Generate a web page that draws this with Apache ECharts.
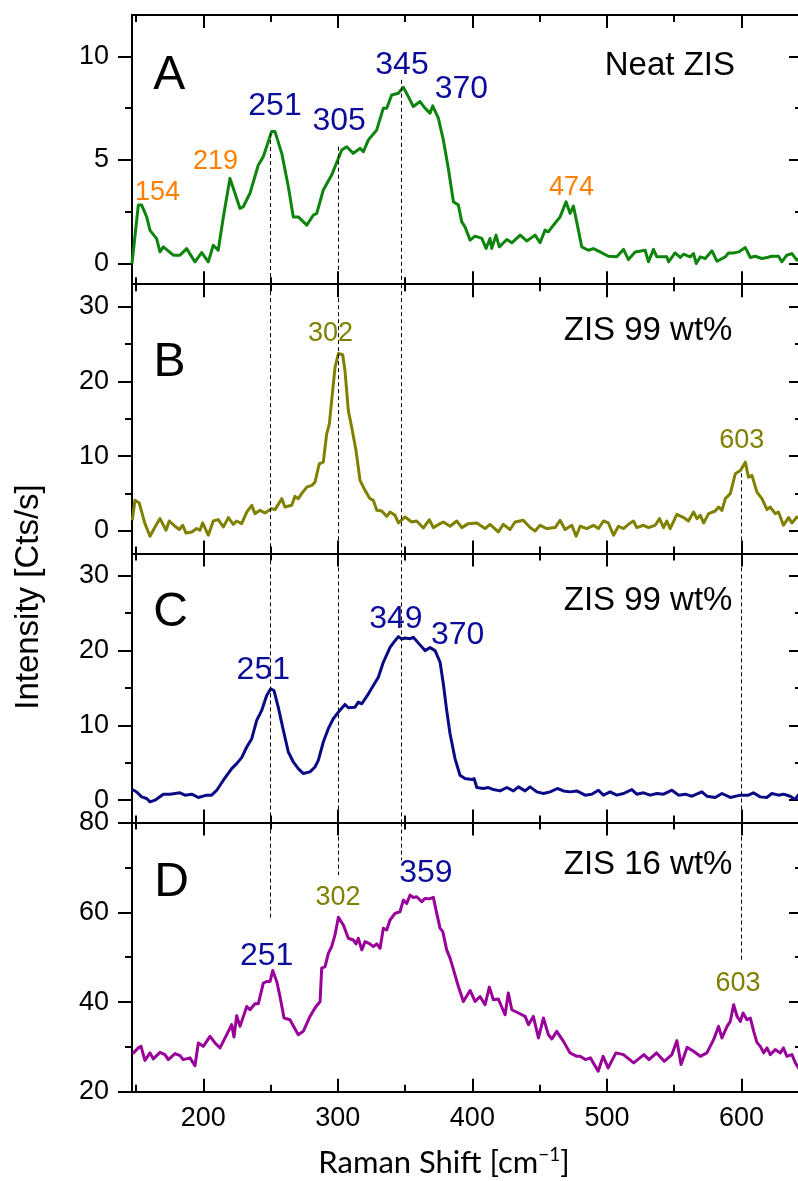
<!DOCTYPE html>
<html>
<head>
<meta charset="utf-8">
<script src="https://cdn.jsdelivr.net/npm/echarts@6/dist/echarts.min.js"></script>
<style>
html,body{margin:0;padding:0;background:#fff;}
#chart{width:798px;height:1181px;}
</style>
</head>
<body>
<div id="chart"></div>
<script>
// ---------------- DATA ----------------
const xRange = [147, 645];
const xMajorTicks = [200, 300, 400, 500, 600];
const xMinorTicks = [150, 250, 350, 450, 550];
const yRanges = [[-1, 12], [-3, 33], [-3, 33], [20, 80]];
const yMajorTicks = [[0, 5, 10], [0, 10, 20, 30], [0, 10, 20, 30], [20, 40, 60, 80]];
const yMinorTicks = [[2.5, 7.5], [5, 15, 25], [5, 15, 25], [30, 50, 70]];

// Panel A: Neat ZIS
const xA = [147,151.7,154.2,157.9,160.4,165.3,167.8,170.3,177.7,182.7,187.6,193.8,198.8,203.7,207.4,211.1,214.9,219.8,222.3,227.3,229.7,234.7,240.9,244.6,250.8,253.3,258.3,263.2,266.9,270.6,276.9,281.8,284.3,289.2,295.4,300.4,302.9,306.6,311.5,316.5,319,322.7,328.9,333.8,336.3,340,345,348.7,352.4,356.1,361.1,364.8,368.5,370.5,374.7,378.4,382.1,385.9,389.6,392.1,394.5,398.3,402,407,410.2,413.1,414.4,417.6,420,425.6,429.3,435.5,440.4,446.6,450.3,454,456.5,460.2,465.2,469.6,472.6,475.1,478.8,481.3,486.2,490,491.2,494.9,501.1,507.3,512.3,516,521,528.4,530.9,534.6,537.1,544.5,545.8,550.7,554.5,556.9,561.9,564.4,566.4,569.4,573.1,578.1,581.8,588,590.4,594.2,597.9,602.9,606.6,610.2,615.2,619,622.6,627.5,630,633.7,637.5,641.2,645];
const yA = [0,2.82,2.82,2.25,1.6,1.2,0.56,0.8,0.4,0.4,0.72,0.08,0.53,0.08,0.88,0.64,2.25,4.11,3.63,2.66,2.74,3.39,4.76,5.16,6.37,6.37,5.32,3.71,2.25,2.25,1.85,2.34,2.42,3.55,4.27,5.08,5.48,5.64,5.32,5.56,5.4,5.97,6.45,7.5,7.5,8.14,8.22,8.51,8.06,7.58,7.82,7.5,7.26,7.61,7.02,5.97,4.6,2.98,2.82,2.01,1.77,1.13,1.32,1.21,0.73,1.21,0.73,1.37,0.8,1.16,1.0,1.37,1.09,1.37,1.0,1.61,1.53,1.85,2.25,2.98,2.42,2.77,1.61,0.8,0.64,0.72,0.8,0.56,0.35,0.32,0.68,0.19,0.56,0.64,0.08,0.68,0.32,0.32,0.08,0.51,0.29,0.45,0.32,0.48,0,0.32,0.24,0.61,0.11,0.32,0.51,0.51,0.56,0.77,0.29,0.35,0.24,0.29,0.35,0.35,0.08,0.4,0.48,0.16,0.3];

// Panel B: ZIS 99 wt%
const xB = [147.2,149.2,152.4,156.6,160.4,164.1,167.8,172.3,174.7,178.9,182.2,184.7,187.1,191.4,195.1,197.5,199.5,203.7,207.4,211.1,214.9,218.6,222.3,224.8,228.5,232.3,236,238.4,242.2,245.9,250.8,253.3,258.3,260.7,265.7,268.2,270.6,273.1,276.9,280.6,283,284.3,286.2,289.2,291.7,293.7,295.4,297.9,300.4,303.6,305.3,307.8,310.3,313.5,316.5,320.2,323.9,326.4,328.9,332.6,336.3,338.8,342.5,345,350,354.9,358.6,363.6,368,371,376,378.4,383.4,388.4,392.1,397,403.3,409.4,413.1,419.3,423,428,431.7,437.9,442.9,446.6,450.3,455.3,461.5,465.2,468.9,473.9,477.1,480.1,485,490,493.7,497.4,501.1,504.9,508.6,512.3,516,519.7,522.2,527.2,530.9,535.9,539.1,542.1,544.5,547,552,557,560.6,564.4,566.9,569.4,571.9,575.6,580.5,583,585.5,588,591.7,595.4,599.2,602.9,605.2,607.8,611.5,615.2,619,621.3,625.1,627.5,631.2,635,637.5,641.2,645];
const yB = [1.43,4.1,3.73,0.98,-0.7,0.53,1.65,0.1,1.33,0.63,0.19,0.76,-0.27,-0.13,0.32,0.1,1.07,-0.57,1.33,1.52,0.53,1.79,0.89,1.33,0.98,2.53,3.43,2.32,2.76,2.4,2.99,2.85,4.32,3.2,3.43,4.63,4.32,4.99,5.87,6.09,6.53,6.76,8.99,9.2,12.99,14.32,17.43,21.87,23.73,23.56,21.43,16.09,13.87,10.76,6.76,5.43,4.32,4.09,2.76,2.67,1.96,2.53,2.09,1.07,1.87,1.2,1.33,0.4,1.5,0.45,0.98,1.2,0.63,1.33,0.45,0.98,1.07,0.32,0.89,-0.13,0.89,0.19,1.2,1.43,0.45,0,0.76,0.32,0.45,1.43,0.19,0.76,-0.7,0.63,0.32,0.76,0.32,1.33,1.07,-0.57,0.63,0.32,0.89,1.33,0.45,0.76,0.45,0.76,1.65,0.45,1.33,0.32,2.23,1.79,1.33,2.53,1.65,2.09,1.07,2.32,2.67,3.2,2.76,4.32,4.99,7.65,8.09,9.2,7.2,7.43,5.2,4.32,2.85,3.2,2.32,2.53,0.76,1.79,1.07,1.87,1.5];

// Panel C: ZIS 99 wt%
const xC = [147.2,150.5,154.2,157.9,160.4,164.1,170.3,175.2,182.7,186.4,191.4,196.3,202.5,206.2,210,214.9,221.1,224.8,228.5,232.3,236,239.7,243.4,247.1,250.1,252.5,255.7,259.5,263.2,266.9,270.6,274.3,279.3,283,285.5,289.2,292.9,296.6,300.4,305.3,307.8,312.8,315.2,317.8,322.7,326.4,330.1,333.8,338.8,342.5,345,347.5,350,353.7,356.1,359.9,364.8,368.5,372.3,376,378.4,380.9,383.4,387.1,390.8,394.5,399.5,401.3,403.3,408.2,411.9,415.6,420.6,425.6,430.5,434.2,439.2,442.9,447.9,452.8,457.8,463.2,467.7,472.6,477.6,483.8,488.7,493.7,497.4,502.4,507.3,512.3,518.5,522.2,527.2,532.1,537.1,542.1,548.3,553.2,558.2,563.2,570.6,574.3,580.5,585.5,591.7,599.2,605.2,608.9,613.9,618.8,622.6,627.5,631.2,636.2,639.9,642.2,645];
const yC = [1.43,1.1,0.44,0.22,-0.22,0,0.8,0.8,0.98,0.67,0.8,0.36,0.67,0.67,1.33,2.67,4.22,4.89,5.69,7.11,8.22,10.67,12,14,14.89,14.67,12.44,9.33,6.44,5.11,4.22,3.56,3.78,4.44,5.33,7.78,9.56,10.89,11.78,12.8,12.36,12.44,13.11,12.89,14.22,15.33,16.44,18.44,20.44,21.33,21.87,21.56,21.69,21.6,21.78,21.0,20,20.4,20,18.44,15.56,12,8.89,5.56,3.33,2.89,2.76,2.89,1.69,1.56,1.69,1.42,1.24,1.69,1.24,1.78,1.24,1.78,1.11,0.89,1.11,1.56,1.24,1.11,1.24,0.67,0.8,1.33,0.67,1.11,0.67,0.89,1.42,0.8,0.98,0.67,0.89,0.8,1.33,0.67,0.8,0.53,1.11,0.53,0.36,0.89,0.36,0.67,0.67,0.98,0.44,0.36,0.89,0.67,0.8,0.53,0.09,0.67,0.3];

// Panel D: ZIS 16 wt%
const xD = [147.5,151.7,153.7,156.6,160.4,162.8,167.8,171.5,174,179,182.7,185.1,190.1,193.8,196.3,200,205,208.7,212.4,217.4,221.1,222.8,224.8,227.3,232.3,234.7,238.4,240.9,244.6,247.1,249.6,251.6,254.6,257,260,264.4,270.6,274.3,279.3,283,286.8,288,290.5,293,295.4,297.9,300.4,304.1,307.8,311.5,313.5,315.2,317.8,320.2,323.9,326.4,328.9,331.4,333.8,336.3,338.8,342.5,346.2,348.7,351.2,353.7,356.1,358.6,362.4,364.8,368,371,373.5,376,378,380.9,383.4,385.4,389.6,393.3,398.3,402,405.7,409.4,412.6,415.6,419.3,424.3,426.7,429.3,434.2,439.2,441.7,445.3,449.1,452.8,456.5,459.1,462.7,467.7,472.6,477.6,480.1,484,487.7,493.5,497.2,500.9,506.7,512.3,519.9,527.5,531.3,536.9,542.6,548.3,552,555.1,559.6,564.4,569.4,574.3,579.3,583,585.5,589.3,591.7,594.2,596.7,599.2,601.2,604.1,606.6,609.1,611.5,614,616.5,619,621.4,625.1,628.9,631.2,633.7,637.5,640,643,645];
const yD = [28.5,29.78,30.13,27.0,28.67,27.33,28.8,28.29,27.18,28.51,28.07,27.18,27.56,25.8,30.89,30.13,32.36,30.89,29.78,32.73,34.96,32.22,36.96,34.58,39.02,38.29,39.62,39.62,44.22,44.58,44.58,47.02,44.58,41.24,36.44,36.07,32.73,33.47,36.8,38.67,40.13,47.56,47.91,50.89,52.36,54.96,58.89,57.18,54.22,53.84,52.96,54.22,51.62,53.47,52.96,52.36,52.96,52,56.44,56.07,58.29,59.78,60.13,62.73,62,63.84,63.3,63.47,62.36,63.11,63.0,63.33,59.78,56.44,55.71,51.62,49.78,47.78,43.47,40.13,42.58,40.13,41.24,39.4,43.33,40.51,40.67,37.18,42,38.29,37.56,36.8,34.96,36.8,32,36.44,32.73,31.78,33.47,31.24,28.67,27.91,27.91,27.18,27.56,24.58,27.91,25.33,28.67,28.29,26.44,28.29,27.18,28.67,26.8,28.29,31.4,26.07,29.9,29.02,27.91,28.67,31.62,34.58,32,34.58,35.69,39.4,36.8,35.69,37.56,36.07,36.44,33.47,31.02,30.13,28.67,29.78,28.29,29.4,28.67,29.78,27.91,28.29,26.5,25.0,25.2];

// Dashed guide lines (peak positions) and their vertical extents
const guideX = [250, 300, 347, 600];
const guideStartA = [6.3, 5.64, 8.87, null];   // value in panel A where line begins
const guideStartB = [null, null, null, 7.7];   // value in panel B where line begins (if not from A)
const guideEndD = [58.3, 68.3, 71.6, 49.4];    // value in panel D where line ends

// Peak / panel annotations: [text, x, y, kind]
const annA = [['154',165.9,3.45,'o'],['219',209.1,4.92,'o'],['251',253.3,7.58,'b'],['305',301,6.85,'b'],['345',347.7,9.58,'b'],['370',391.8,8.41,'b'],['474',473.7,3.67,'o'],['A',174.7,9.07,'L'],['Neat ZIS',546.8,9.55,'T']];
const annB = [['302',294.6,26.4,'g'],['603',600.3,12.1,'g'],['B',174.9,22.47,'L'],['ZIS 99 wt%',530.6,26.76,'T']];
const annC = [['251',244.6,17.44,'b'],['349',343.1,24.18,'b'],['370',389,22,'b'],['C',175.7,25.04,'L'],['ZIS 99 wt%',530.6,26.7,'T']];
const annD = [['251',247.1,50.33,'b'],['302',300.1,63.33,'g'],['359',365.4,68.67,'b'],['603',597.5,44.22,'g'],['D',176.5,66.69,'L'],['ZIS 16 wt%',530.6,70.5,'T']];

// ---------------- CHART ----------------
const FONT = '"Liberation Sans", Arial, sans-serif';
const lineColors = ['#0d850d', '#808000', '#0a0a86', '#990099'];
const annStyle = {
  o: {color: '#ff8000', fontSize: 27},
  b: {color: '#0c0c9c', fontSize: 32},
  g: {color: '#808000', fontSize: 27},
  L: {color: '#000', fontSize: 48},
  T: {color: '#000', fontSize: 33}
};
const xs = [xA, xB, xC, xD], ys = [yA, yB, yC, yD];
const anns = [annA, annB, annC, annD];

const gridLeft = 132, gridWidth = 670, gridTop = 15, panelH = 269.2;
const grids = [], xAxes = [], yAxes = [], series = [];

function xAxisDef(gi, pos, ticks, len, showLine, showLabel) {
  return {
    type: 'value', gridIndex: gi, position: pos, min: xRange[0], max: xRange[1],
    axisLine: {show: showLine, onZero: false, lineStyle: {color: '#000', width: 2}},
    axisTick: {show: true, inside: true, length: len, customValues: ticks, lineStyle: {color: '#000', width: 2}},
    axisLabel: {show: showLabel, customValues: xMajorTicks, margin: 13, fontSize: 27, color: '#000', fontFamily: FONT},
    splitLine: {show: false}
  };
}
function yAxisDef(gi, pos, ticks, len, inside, showLine, showLabel) {
  return {
    type: 'value', gridIndex: gi, position: pos, min: yRanges[gi][0], max: yRanges[gi][1],
    axisLine: {show: showLine, onZero: false, lineStyle: {color: '#000', width: 2}},
    axisTick: {show: true, inside: inside, length: len, customValues: ticks, lineStyle: {color: '#000', width: 2}},
    axisLabel: {show: showLabel, customValues: yMajorTicks[gi], margin: 23, fontSize: 27, color: '#000', fontFamily: FONT},
    splitLine: {show: false}
  };
}

for (let g = 0; g < 4; g++) {
  grids.push({left: gridLeft, width: gridWidth, top: gridTop + g * panelH, height: panelH, containLabel: false, outerBoundsMode: 'none'});
  xAxes.push(xAxisDef(g, 'bottom', xMajorTicks, 13, true, g === 3));
  xAxes.push(xAxisDef(g, 'bottom', xMinorTicks, 7, false, false));
  xAxes.push(xAxisDef(g, 'top', xMajorTicks, 13, true, false));
  xAxes.push(xAxisDef(g, 'top', xMinorTicks, 7, false, false));
  yAxes.push(yAxisDef(g, 'left', yMajorTicks[g], 14, false, true, true));
  yAxes.push(yAxisDef(g, 'left', yMinorTicks[g], 7, false, false, false));
  yAxes.push(yAxisDef(g, 'right', yMajorTicks[g], 13, true, true, false));
  yAxes.push(yAxisDef(g, 'right', yMinorTicks[g], 7, true, false, false));

  const ml = [];
  const ymin = yRanges[g][0], ymax = yRanges[g][1];
  for (let i = 0; i < guideX.length; i++) {
    const x = guideX[i];
    if (g === 0) {
      if (guideStartA[i] != null) ml.push([{coord: [x, guideStartA[i]]}, {coord: [x, ymin]}]);
    } else if (g === 1) {
      if (guideStartA[i] != null) ml.push([{coord: [x, ymax]}, {coord: [x, ymin]}]);
      else if (guideStartB[i] != null) ml.push([{coord: [x, guideStartB[i]]}, {coord: [x, ymin]}]);
    } else if (g === 2) {
      ml.push([{coord: [x, ymax]}, {coord: [x, ymin]}]);
    } else {
      ml.push([{coord: [x, ymax]}, {coord: [x, guideEndD[i]]}]);
    }
  }

  series.push({
    type: 'line', xAxisIndex: 4 * g, yAxisIndex: 4 * g,
    data: xs[g].map((x, i) => [x, ys[g][i]]),
    showSymbol: false, symbol: 'none', clip: true,
    lineStyle: {color: lineColors[g], width: 3, join: 'round'},
    animation: false, z: 3,
    markLine: {
      silent: true, symbol: ['none', 'none'], animation: false,
      label: {show: false},
      lineStyle: {color: '#000', width: 1, type: [4, 3], opacity: 1},
      data: ml
    }
  });

  series.push({
    type: 'scatter', xAxisIndex: 4 * g, yAxisIndex: 4 * g,
    symbolSize: 1, itemStyle: {color: 'rgba(0,0,0,0)', opacity: 1}, animation: false, silent: true, z: 5,
    data: anns[g].map(a => ({
      name: a[0], value: [a[1], a[2]],
      label: {show: true, position: 'inside', formatter: '{b}', fontFamily: FONT, opacity: 1,
              textBorderWidth: 0,
              color: annStyle[a[3]].color, fontSize: annStyle[a[3]].fontSize}
    }))
  });
}

const chart = echarts.init(document.getElementById('chart'), null, {renderer: 'canvas'});
chart.setOption({
  backgroundColor: '#fff',
  animation: false,
  grid: grids,
  xAxis: xAxes,
  yAxis: yAxes,
  series: series,
  graphic: [
    {type: 'text', x: 29, y: 597, rotation: Math.PI / 2,
     style: {text: 'Intensity [Cts/s]', font: '33px "Liberation Sans", Arial, sans-serif', fill: '#000', align: 'center', verticalAlign: 'middle'}},
    {type: 'text', x: 444, y: 1163,
     style: {text: 'Raman Shift [cm{sup|\u22121}]', fill: '#000', align: 'center', verticalAlign: 'middle',
             fontFamily: 'Lato, "Open Sans", sans-serif', fontSize: 31,
             rich: {sup: {fontSize: 19, fontFamily: 'Lato, sans-serif', fill: '#000', padding: [0, 0, 16, 0]}}}}
  ]
});
</script>
</body>
</html>
